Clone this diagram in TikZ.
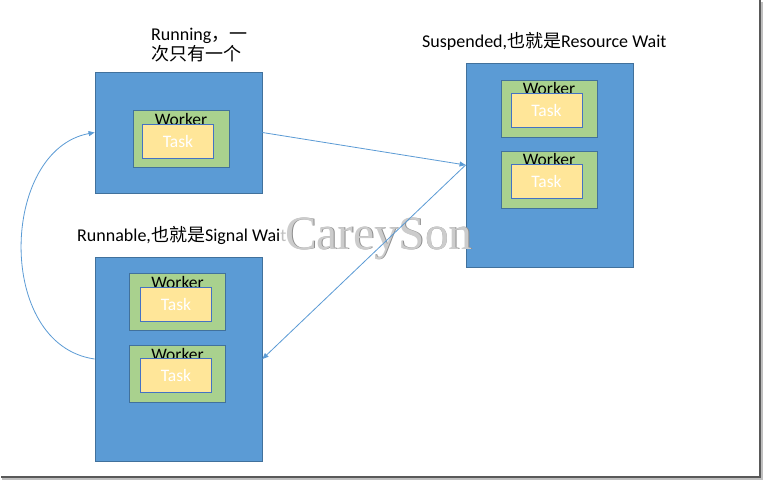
\documentclass[tikz,border=0pt]{standalone}
\usepackage{fontspec}
\setmainfont{Carlito}
\newfontfamily\cjk{Noto Sans CJK SC}
\newfontfamily\wmfont{Liberation Serif}
\usetikzlibrary{arrows.meta}
\definecolor{boxblue}{HTML}{5B9BD5}
\definecolor{edgeblue}{HTML}{41719C}
\definecolor{wgreen}{HTML}{A9D18E}
\definecolor{tyellow}{HTML}{FFE699}
\definecolor{tedge}{HTML}{4472C4}
\definecolor{arrowblue}{HTML}{5B9BD5}
\tikzset{
  statebox/.style={draw=edgeblue, fill=boxblue, line width=0.8pt, inner sep=0pt},
  worker/.style={draw=edgeblue, fill=wgreen, line width=0.8pt, inner sep=0pt, minimum width=96pt, minimum height=57pt},
  wtext/.style={inner sep=0pt, text=black, font=\fontsize{17.5}{20}\selectfont},
  task/.style={draw=tedge, fill=tyellow, line width=0.8pt, inner sep=0pt, minimum width=71pt, minimum height=34pt, text=white, font=\fontsize{17.5}{20}\selectfont},
  lbl/.style={inner sep=0pt, anchor=base west, text=black, font=\fontsize{18}{20}\selectfont},
  flow/.style={draw=arrowblue, line width=0.8pt, -{Triangle[length=6pt,width=5pt]}},
}
\newcommand\wkbox[5]{%
  \node[worker] (#1) at (#2,#3) {};
  \node[wtext, anchor=base] (#1t) at (#2,#3-13.5) {Worker};
  \node[task] (#1k) at (#4,#5) {Task};
}
\begin{document}
\begin{tikzpicture}[x=1pt,y=-1pt]
\useasboundingbox (0,0) rectangle (763,481);
\fill[white] (0,0) rectangle (763,481);
% frame shadow
\draw[black!25, line width=1.5pt] (762,2) -- (762,479) -- (2,479);
\draw[black!65, line width=1.5pt] (760.2,0) -- (760.2,477.2) -- (1,477.2);
% state boxes
\node[statebox, minimum width=167pt, minimum height=121pt] (run) at (178.5,132.5) {};
\node[statebox, minimum width=167pt, minimum height=204pt] (susp) at (549.5,165) {};
\node[statebox, minimum width=167pt, minimum height=204pt] (rnb) at (178.5,359) {};
% workers
\wkbox{rw}{181}{139}{178}{141}
\wkbox{sa}{549}{108.5}{546.5}{110}
\wkbox{sb}{549}{179.5}{546.5}{181.5}
\wkbox{ra}{177.5}{302}{176}{304.5}
\wkbox{rb}{177.5}{373.5}{176}{375.5}
% labels
\node[lbl] (runlbl1) at (151,41) {Running{\cjk ，一}};
\node[lbl] (runlbl2) at (151,61) {{\cjk 次只有一个}};
\node[lbl] (susplbl) at (422,48) {Suspended,{\cjk 也就是}Resource Wait};
\node[lbl] (rnblbl) at (77,242) {Runnable,{\cjk 也就是}Signal Wai\textcolor{black!25}{t}};
% watermark
\node[inner sep=0pt, anchor=base west, text=black!45] (wm2) at (285.8,249.8) {\wmfont\fontsize{47.5}{47}\selectfont CareySon};
\node[inner sep=0pt, anchor=base west, text=black!20] (wm) at (285,249) {\wmfont\fontsize{47.5}{47}\selectfont CareySon};
% connectors
\draw[flow] (run.east) -- (susp.west);
\draw[flow] (susp.west) -- (rnb.east);
\draw[flow] (rnb.west) .. controls (-5,345) and (0,150) .. (run.west);
\end{tikzpicture}
\end{document}
